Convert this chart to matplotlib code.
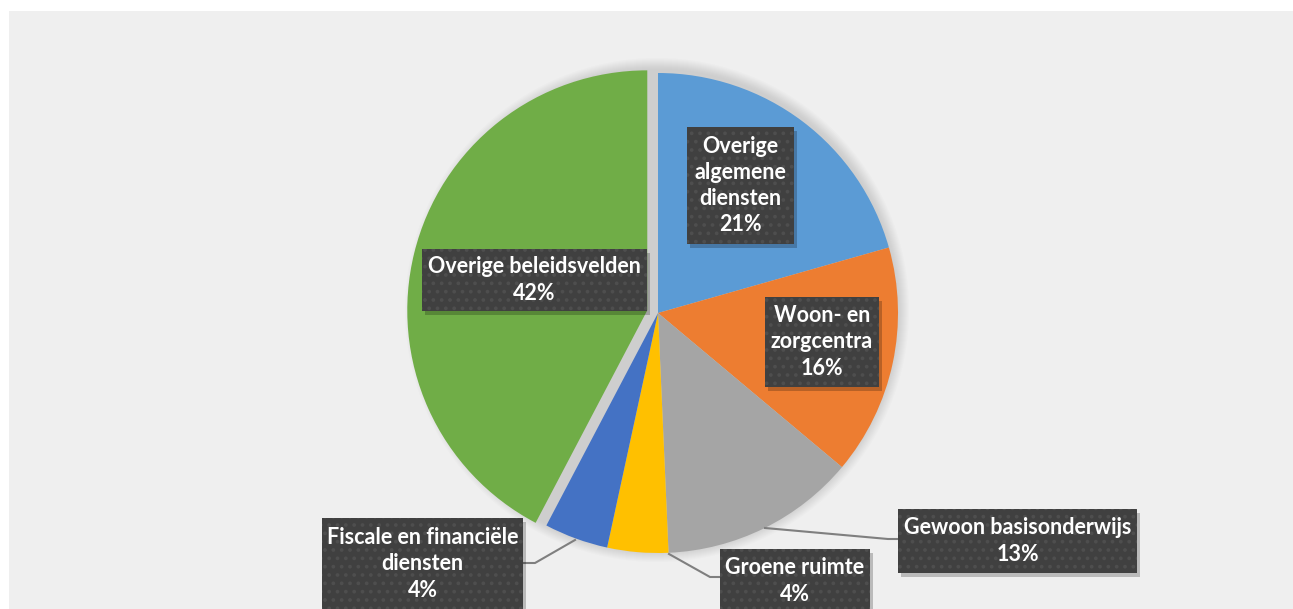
import matplotlib
matplotlib.use("Agg")
import matplotlib.pyplot as plt
from matplotlib.patches import Rectangle, Circle

# data (aandeel per beleidsveld, in %)
categories = ["Overige\nalgemene\ndiensten", "Woon- en\nzorgcentra", "Gewoon basisonderwijs",
              "Groene ruimte", "Fiscale en financiële\ndiensten", "Overige beleidsvelden"]
values = [20.6, 15.5, 13.2, 4.1, 4.3, 42.3]
colors = ["#5B9BD5", "#ED7D31", "#A5A5A5", "#FFC000", "#4472C4", "#70AD47"]
explode = [0, 0, 0, 0, 0, 0.046]

# layout in pixels: label box (x0, y0, x1, y1) and leader lines
boxes = [(687, 127, 794, 244), (765, 297, 879, 387), (898, 509, 1137, 573),
         (720, 549, 870, 640), (322, 518, 523, 640), (422, 249, 647, 311)]
leaders = {2: [(765, 528), (888, 539), (898, 539)],
           3: [(669, 554), (710, 577), (720, 577)],
           4: [(575, 540), (535, 563), (523, 563)]}

W, H = 1293, 609
fig = plt.figure(figsize=(W / 100, H / 100), dpi=100)
ax = fig.add_axes([0, 0, 1, 1])

# achtergrond
ax.add_patch(Rectangle((9, 11), W, H, facecolor="#EFEFEF", edgecolor="none", zorder=0))

cx, cy, r = 658, 313, 240

# zachte schaduw rond de taart
for i in range(12):
    ax.add_patch(Circle((cx - 1, cy - 3), r + 12 - i, facecolor="#6F6F6F", alpha=0.02,
                        edgecolor="none", zorder=1))

# y-as is omgekeerd: startangle=-90 + counterclock=True geeft met de klok mee vanaf boven
# explode wordt door matplotlib niet met de straal geschaald
ax.pie(values, colors=colors, explode=[e * r for e in explode], startangle=-90,
       counterclock=True, center=(cx, cy), radius=r, frame=True,
       wedgeprops=dict(linewidth=0, zorder=2))
ax.set_xlim(0, W)
ax.set_ylim(H, 0)
ax.set_aspect("equal")
ax.axis("off")

for idx, pts in leaders.items():
    xs = [p[0] for p in pts]
    ys = [p[1] for p in pts]
    ax.plot(xs, ys, color="#7F7F7F", lw=1.5, zorder=3)

plt.rcParams["hatch.linewidth"] = 1.5
for i, (lab, val) in enumerate(zip(categories, values)):
    x0, y0, x1, y1 = boxes[i]
    ax.add_patch(Rectangle((x0 + 3, y0 + 4), x1 - x0, y1 - y0, facecolor="#000000",
                           alpha=0.22, edgecolor="none", zorder=4))
    ax.add_patch(Rectangle((x0, y0), x1 - x0, y1 - y0, facecolor="#404040",
                           edgecolor="#4E4E4E", hatch="..", lw=0, zorder=5))
    txt = f"{lab}\n{round(val)}%"
    nl = txt.count("\n") + 1
    ty = (y0 + y1) / 2 if y1 <= H else y0 + 14 * nl + 4
    ax.text((x0 + x1) / 2, ty, txt, ha="center", va="center", color="white",
            fontsize=15.5, fontweight="bold", family="Lato", linespacing=1.3, zorder=6)

fig.savefig("out.png", dpi=100)
